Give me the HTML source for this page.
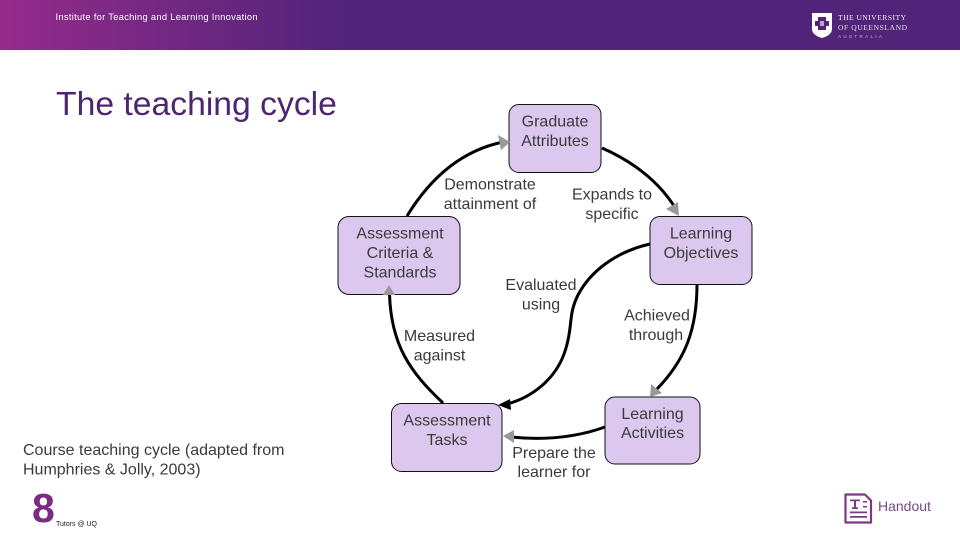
<!DOCTYPE html>
<html><head><meta charset="utf-8"><style>
html,body{margin:0;padding:0;background:#fff}
svg{display:block}
text{font-family:"Liberation Sans",sans-serif}
.n{font-size:16px;fill:#3a3a3a;text-anchor:middle}
.b{fill:#dcc8ee;stroke:#111;stroke-width:1}
.c{fill:none;stroke:#000;stroke-width:3;stroke-linecap:butt}
.a{fill:#999}
</style></head><body>
<svg width="960" height="540" viewBox="0 0 960 540" xmlns="http://www.w3.org/2000/svg">
<defs><linearGradient id="g" x1="0" x2="1" y1="0" y2="0"><stop offset="0" stop-color="#962a8b"/><stop offset=".12" stop-color="#7d2985"/><stop offset=".36" stop-color="#51247a"/><stop offset="1" stop-color="#51247a"/></linearGradient></defs>
<rect width="960" height="50" fill="url(#g)"/>
<text x="55.500" y="20" font-size="9.300" fill="#fff" textLength="202">Institute for Teaching and Learning Innovation</text>
<text x="56" y="115" font-size="33.700" fill="#4c2670">The teaching cycle</text>

<path d="M812 13H832V29Q832 35 822 38Q812 35 812 29Z" fill="#fff"/>
<path d="M818 17h8v4h3v5h-3v4h-8v-4h-3v-5h3z" fill="#51247a"/>
<rect x="820" y="21" width="4" height="5" fill="#b9a6cb"/>
<text x="838" y="20" font-size="7.500" fill="#f2edf6" textLength="68" style="font-family:'Liberation Serif',serif">THE UNIVERSITY</text>
<text x="838" y="30" font-size="7.500" fill="#e4dcec" textLength="69" style="font-family:'Liberation Serif',serif">OF QUEENSLAND</text>
<text x="838" y="38" font-size="4.500" fill="#c5b6d3" textLength="44">AUSTRALIA</text>

<rect class="b" x="509" y="104.500" width="92" height="68" rx="10"/>
<rect class="b" x="338" y="216.500" width="122" height="78" rx="11"/>
<rect class="b" x="650" y="216.500" width="102" height="68" rx="10"/>
<rect class="b" x="391.500" y="403.500" width="110.500" height="68" rx="10"/>
<rect class="b" x="605" y="397" width="95" height="67" rx="10"/>

<path class="c" d="M407 216Q445 154 503 142"/>
<path class="c" d="M602 148Q652 170 676 209"/>
<path class="c" d="M650 244C615 252 590 272 578 295C568 315 573 325 566 348C557 380 530 398 507 404"/>
<path class="c" d="M697 284C697 330 685 360 657 389"/>
<path class="c" d="M605 427C580 436 550 441 511 437"/>
<path class="c" d="M443 403C410 372 391 345 389.500 294"/>

<path class="a" d="M510 142L498 135L501 150Z"/>
<path class="a" d="M679 216L666 209L678 202Z"/>
<path d="M498 405L510 399L511 410Z" fill="#000"/>
<path class="a" d="M650 397L651 384L662 393Z"/>
<path class="a" d="M503 436L514 430L514 443Z"/>
<path class="a" d="M389 285L383 295H395Z"/>

<text class="n" x="555" y="126.500">Graduate</text>
<text class="n" x="555" y="146">Attributes</text>
<text class="n" x="490" y="189.500">Demonstrate</text>
<text class="n" x="490" y="209">attainment of</text>
<text class="n" x="612" y="199.500">Expands to</text>
<text class="n" x="612" y="219">specific</text>
<text class="n" x="400" y="238.500">Assessment</text>
<text class="n" x="400" y="258">Criteria &amp;</text>
<text class="n" x="400" y="277.500">Standards</text>
<text class="n" x="701" y="238.500">Learning</text>
<text class="n" x="701" y="258">Objectives</text>
<text class="n" x="541" y="290">Evaluated</text>
<text class="n" x="541" y="309.500">using</text>
<text class="n" x="657" y="320.500">Achieved</text>
<text class="n" x="656" y="340">through</text>
<text class="n" x="439.500" y="341">Measured</text>
<text class="n" x="439.500" y="360.500">against</text>
<text class="n" x="447" y="425.500">Assessment</text>
<text class="n" x="447" y="445">Tasks</text>
<text class="n" x="652.500" y="419">Learning</text>
<text class="n" x="652.500" y="438">Activities</text>
<text class="n" x="554" y="458">Prepare the</text>
<text class="n" x="554" y="477">learner for</text>

<text x="23" y="455" font-size="16" fill="#3a3a3a">Course teaching cycle (adapted from</text>
<text x="23" y="474.500" font-size="16" fill="#3a3a3a">Humphries &amp; Jolly, 2003)</text>
<text x="32" y="522" font-size="41" font-weight="bold" fill="#7c2b83">8</text>
<text x="56" y="526" font-size="7" fill="#222" textLength="41">Tutors @ UQ</text>

<path d="M845.500 494.500H865L871 500.500V522.500H845.500Z" fill="none" stroke="#7c3a85" stroke-width="2.200" stroke-linejoin="round"/>
<path d="M850 499.500h10v1.800h-4v6h2v1.700h-6v-1.700h2v-6h-4z" fill="#7c3a85"/>
<path d="M863 501h4v1.500h-4zM863 506h4v1.500h-4zM850 511.500h17v1.800h-17zM850 516h17v1.800h-17z" fill="#7c3a85"/>
<text x="878" y="511" font-size="14" fill="#7a4a86">Handout</text>
</svg>
</body></html>
